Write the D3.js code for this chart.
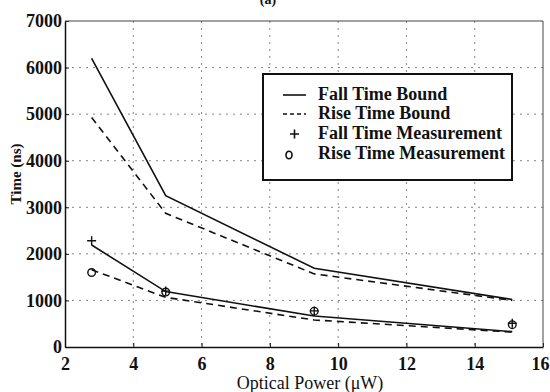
<!DOCTYPE html>
<html lang="en">
<head>
    <meta charset="UTF-8">
    <title>Fall / rise time vs optical power</title>
    <script src="https://cdn.jsdelivr.net/npm/d3@7"></script>
    <style>
        html, body {
            margin: 0;
            padding: 0;
            background: #fff;
        }
        svg text {
            font-family: "Liberation Serif", "Times New Roman", Times, serif !important;
            fill: #111;
        }
    </style>
</head>
<body>
<div id="chart"></div>
<script>
    // optical power (uW) where bounds were computed / measured
    const power = [2.78, 4.95, 9.3, 15.1];

    // upper pair of curves
    const fallBoundHigh = [6200, 3250, 1690, 1020];
    const riseBoundHigh = [4930, 2870, 1570, 1000];

    // lower pair of curves
    const fallBoundLow = [2190, 1190, 665, 330];
    const riseBoundLow = [1660, 1066, 580, 320];

    // measurements
    const fallMeas = [2280, 1200, 775, 510];
    const riseMeas = [1600, 1180, 770, 480];

    const xTicks = [2, 4, 6, 8, 10, 12, 14, 16];
    const yTicks = [0, 1000, 2000, 3000, 4000, 5000, 6000, 7000];

    const legendLabels = ["Fall Time Bound", "Rise Time Bound", "Fall Time Measurement", "Rise Time Measurement"];

    const W = 550, H = 392;
    const mLeft = 65, mRight = 543, mTop = 21, mBottom = 347;

    const svg = d3.select("#chart").append("svg")
        .attr("width", W)
        .attr("height", H);

    const x = d3.scaleLinear().domain([2, 16]).range([mLeft, mRight]);
    const y = d3.scaleLinear().domain([0, 7000]).range([mBottom, mTop]);

    // title, mostly cut off at top
    svg.append("text")
        .attr("x", 268).attr("y", 4)
        .attr("text-anchor", "middle")
        .style("font-size", "14px")
        .style("font-weight", "bold")
        .text("(a)");

    // dotted grid
    const grid = svg.append("g")
        .attr("stroke", "#666")
        .attr("stroke-width", 0.8)
        .attr("stroke-dasharray", "2,5");
    grid.selectAll(".vx").data(xTicks.slice(1, -1)).enter().append("line")
        .attr("x1", d => x(d)).attr("x2", d => x(d))
        .attr("y1", mTop).attr("y2", mBottom);
    grid.selectAll(".hy").data(yTicks.slice(1, -1)).enter().append("line")
        .attr("x1", mLeft).attr("x2", mRight)
        .attr("y1", d => y(d)).attr("y2", d => y(d));

    // axes (inward ticks)
    const xAxis = svg.append("g")
        .attr("transform", `translate(0,${mBottom})`)
        .call(d3.axisBottom(x).tickValues(xTicks).tickFormat(d3.format("d"))
            .tickSizeInner(-4).tickSizeOuter(0).tickPadding(10));
    const yAxis = svg.append("g")
        .attr("transform", `translate(${mLeft},0)`)
        .call(d3.axisLeft(y).tickValues(yTicks).tickFormat(d3.format("d"))
            .tickSizeInner(-4).tickSizeOuter(0).tickPadding(3));

    [xAxis, yAxis].forEach(a => {
        a.attr("font-family", null);
        a.select(".domain").attr("stroke", "#111").attr("stroke-width", 1.5);
        a.selectAll(".tick line").attr("stroke", "#111");
        a.selectAll(".tick text")
            .attr("fill", "#111")
            .style("font-weight", "bold");
    });
    xAxis.selectAll(".tick text").style("font-size", "18px");
    yAxis.selectAll(".tick text").style("font-size", "18px");
    // keep the last label inside the window
    xAxis.selectAll(".tick text").filter(d => d === 16).attr("dx", -3);

    // top and right frame
    svg.append("path")
        .attr("d", `M${mLeft},${mTop}H${mRight}V${mBottom}`)
        .attr("fill", "none")
        .attr("stroke", "#444")
        .attr("stroke-width", 1);

    // axis titles
    svg.append("text")
        .attr("x", 310).attr("y", 389)
        .attr("text-anchor", "middle")
        .style("font-size", "18px")
        .text("Optical Power (\u03bcW)");

    svg.append("text")
        .attr("transform", "translate(21,174) rotate(-90)")
        .attr("text-anchor", "middle")
        .style("font-size", "15px")
        .style("font-weight", "bold")
        .text("Time (ns)");

    // curves
    const line = d3.line()
        .x(d => x(d[0]))
        .y(d => y(d[1]));

    const curves = [
        {vals: fallBoundHigh, dash: null},
        {vals: riseBoundHigh, dash: "7,5"},
        {vals: fallBoundLow, dash: null},
        {vals: riseBoundLow, dash: "7,5"}
    ];
    curves.forEach(c => {
        svg.append("path")
            .datum(d3.zip(power, c.vals))
            .attr("d", line)
            .attr("fill", "none")
            .attr("stroke", "#111")
            .attr("stroke-width", 1.6)
            .attr("stroke-dasharray", c.dash);
    });

    // markers
    svg.selectAll(".rise").data(d3.zip(power, riseMeas)).enter().append("circle")
        .attr("cx", d => x(d[0])).attr("cy", d => y(d[1]))
        .attr("r", 3.8)
        .attr("fill", "none")
        .attr("stroke", "#111")
        .attr("stroke-width", 1.4);
    svg.selectAll(".fall").data(d3.zip(power, fallMeas)).enter().append("path")
        .attr("d", d => `M${x(d[0]) - 4.5},${y(d[1])}h9M${x(d[0])},${y(d[1]) - 4.5}v9`)
        .attr("stroke", "#111")
        .attr("stroke-width", 1.4);

    // legend
    const lg = svg.append("g");
    lg.append("rect")
        .attr("x", 263).attr("y", 74)
        .attr("width", 249).attr("height", 106)
        .attr("fill", "#fff")
        .attr("stroke", "#111")
        .attr("stroke-width", 2);

    const rowY = [95, 114, 134, 154];
    const rows = lg.selectAll(".row").data(legendLabels).enter().append("g")
        .attr("transform", (d, i) => `translate(0,${rowY[i]})`);

    rows.append("text")
            .attr("x", 318).attr("y", 5)
            .style("font-size", "18px")
            .style("font-weight", "bold")
            .text(d => d);

    rows.filter((d, i) => i < 2).append("line")
        .attr("x1", 283).attr("x2", 306)
        .attr("stroke", "#111")
        .attr("stroke-width", 1.6)
        .attr("stroke-dasharray", (d, i) => i === 1 ? "4,3" : null);

    rows.filter((d, i) => i === 2).append("path")
        .attr("d", "M290,0h9M294.5,-4.5v9")
        .attr("stroke", "#111")
        .attr("stroke-width", 1.6);

    rows.filter((d, i) => i === 3).append("ellipse")
        .attr("cx", 289).attr("cy", 1)
        .attr("rx", 3).attr("ry", 3.8)
        .attr("fill", "none")
        .attr("stroke", "#111")
        .attr("stroke-width", 1.6);
</script>
</body>
</html>
